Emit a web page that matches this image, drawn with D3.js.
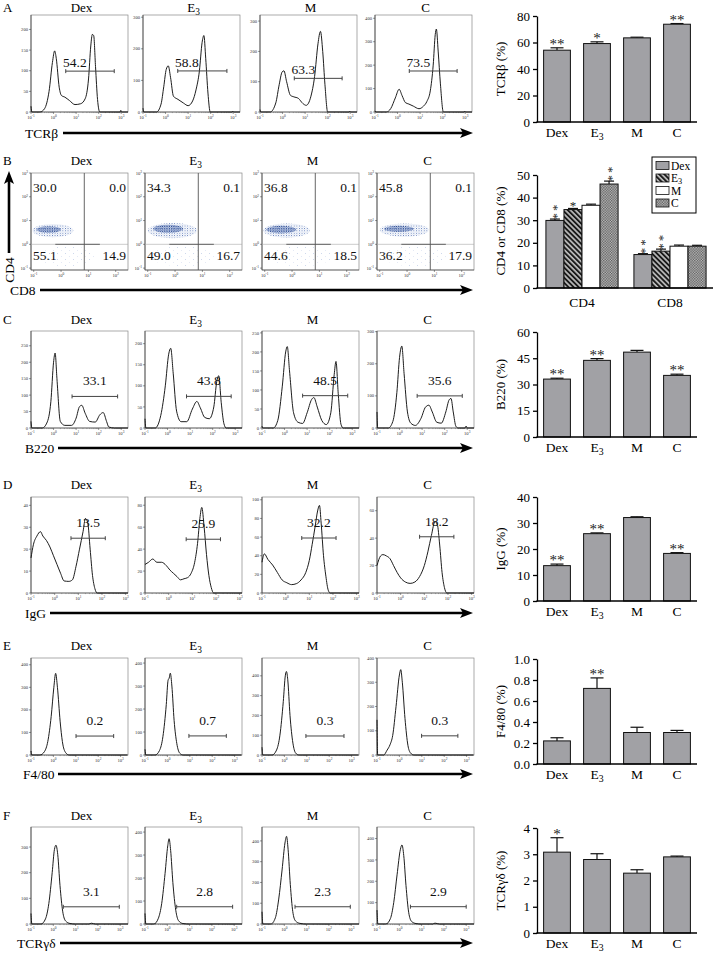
<!DOCTYPE html>
<html><head><meta charset="utf-8">
<script src="https://cdn.jsdelivr.net/npm/d3@7"></script>
<style>body{margin:0;background:#fff}svg{display:block}</style>
</head><body><svg id="c" width="713" height="957"></svg>
<script>
// ---------- DATA ----------
const groups = ["Dex","E3","M","C"];

// bar charts (mean, SEM, significance)
const tcrbMean=[54.2,59.2,63.5,73.8], tcrbErr=[1.8,1.3,0.5,0.5], tcrbSig=["**","*","","**"];
const cd4Mean=[29.9,34.7,36.6,46.0], cd4Err=[0.6,0.5,0.5,1.3], cd4Sig=["**","*","","**"];
const cd8Mean=[14.8,16.3,18.5,18.5], cd8Err=[0.4,0.9,0.5,0.4], cd8Sig=["**","**","",""];
const b220Mean=[33.1,43.8,48.5,35.2], b220Err=[0.5,1.0,1.0,0.7], b220Sig=["**","**","","**"];
const iggMean=[13.6,25.9,32.1,18.3], iggErr=[0.6,0.3,0.3,0.3], iggSig=["**","**","","**"];
const f480Mean=[0.22,0.72,0.30,0.30], f480Err=[0.03,0.10,0.05,0.02], f480Sig=["","**","",""];
const tcrgdMean=[3.08,2.80,2.28,2.90], tcrgdErr=[0.55,0.22,0.13,0.03], tcrgdSig=["*","","",""];

// histogram gate labels
const tcrbGateLabel=["54.2","58.8","63.3","73.5"];
const b220GateLabel=["33.1","43.8","48.5","35.6"];
const iggGateLabel=["13.5","25.9","32.2","18.2"];
const f480GateLabel=["0.2","0.7","0.3","0.3"];
const tcrgdGateLabel=["3.1","2.8","2.3","2.9"];

// gates: [log10 start, log10 end], gate height in counts
const tcrbGates=[[0.54,2.69],[0.54,2.72],[0.52,2.64],[0.52,2.64]], tcrbGateY=[99,130,111,175];
const b220Gates=[[0.82,2.84],[0.84,2.82],[0.8,2.8],[0.78,2.78]], b220GateY=[96,75,85,100];
const iggGates=[[0.69,2.14],[0.74,2.19],[0.68,2.13],[0.8,2.25]], iggGateY=[25,49,59,41];
const f480Gates=[[1.01,2.69],[0.96,2.63],[0.96,2.66],[0.99,2.61]], f480GateY=[84,83,96,79];
const tcrgdGates=[[0.45,2.96],[0.42,2.93],[0.48,2.96],[0.5,3.0]], tcrgdGateY=[67,75,83,81];

// histogram y axis maxima and tick steps
const tcrbYMax=[235,307,320,414], tcrbYStep=[50,100,100,100];
const b220YMax=[295,230,255,302], b220YStep=[50,50,50,100];
const iggYMax=[43.8,87.5,103,70], iggYStep=[10,20,20,20];
const f480YMax=[430,422,490,400], f480YStep=[100,100,100,100];
const tcrgdYMax=[378,422,467,454], tcrgdYStep=[100,100,100,100];

// histogram curves: [log10 fluorescence, count]
const tcrbCurves=[
 [[-1,14],[-0.96,0],[-0.6,0],[-0.4,8],[-0.2,50],[-0.05,120],[0.05,148],[0.12,130],[0.25,60],[0.35,40],[0.5,36],[0.7,28],[0.95,18],[1.2,20],[1.4,32],[1.55,80],[1.65,160],[1.72,188],[1.78,185],[1.86,110],[1.95,30],[2.05,0],[2.95,0],[2.98,4],[3.02,0],[3.3,0]],
 [[-1,12],[-0.96,0],[-0.4,0],[-0.2,25],[-0.08,80],[0.03,135],[0.12,146],[0.22,110],[0.35,50],[0.55,40],[0.8,28],[1.0,20],[1.2,35],[1.35,70],[1.5,130],[1.62,220],[1.70,242],[1.78,170],[1.88,60],[1.98,0],[2.95,0],[2.98,3],[3.02,0],[3.3,0]],
 [[-1,8],[-0.96,0],[-0.55,0],[-0.3,30],[-0.15,90],[-0.02,132],[0.06,136],[0.18,100],[0.35,55],[0.5,50],[0.7,45],[0.9,28],[1.05,22],[1.25,50],[1.42,117],[1.57,225],[1.68,266],[1.78,200],[1.88,90],[2.0,0],[2.95,0],[2.98,3],[3.02,0],[3.3,0]],
 [[-1,5],[-0.96,0],[-0.5,0],[-0.3,15],[-0.1,60],[0.07,97],[0.2,70],[0.35,40],[0.5,34],[0.7,25],[0.95,14],[1.15,25],[1.3,45],[1.45,90],[1.58,200],[1.67,330],[1.72,354],[1.8,260],[1.9,120],[2.03,0],[2.95,0],[2.98,4],[3.02,0],[3.3,0]]
];
const b220Curves=[
 [[-1,20],[-0.96,0],[-0.5,0],[-0.3,15],[-0.12,80],[0,200],[0.07,228],[0.15,150],[0.3,20],[0.5,8],[0.8,8],[1.0,30],[1.15,65],[1.25,69],[1.4,45],[1.6,20],[1.85,18],[2.05,40],[2.2,47],[2.35,20],[2.45,3],[2.7,0],[3.3,0]],
 [[-1,22],[-0.96,0],[-0.55,0],[-0.3,30],[-0.1,100],[0.05,175],[0.14,189],[0.25,130],[0.4,40],[0.6,15],[0.85,15],[1.1,45],[1.3,63],[1.45,48],[1.65,25],[1.85,22],[2.05,50],[2.18,110],[2.27,124],[2.38,60],[2.5,10],[2.6,0],[3.3,0]],
 [[-1,5],[-0.96,0],[-0.5,0],[-0.3,20],[-0.1,110],[0.05,200],[0.12,214],[0.22,150],[0.4,40],[0.6,15],[0.8,12],[1.0,40],[1.2,75],[1.3,80],[1.45,55],[1.65,20],[1.85,9],[2.05,40],[2.2,140],[2.28,175],[2.38,90],[2.5,10],[2.6,0],[3.3,0]],
 [[-1,50],[-0.97,0],[-0.5,0],[-0.3,20],[-0.12,110],[0,220],[0.1,255],[0.2,170],[0.35,50],[0.5,15],[0.7,8],[0.95,30],[1.15,65],[1.3,71],[1.45,50],[1.65,18],[1.85,15],[2.05,50],[2.2,88],[2.28,92],[2.38,50],[2.5,5],[2.6,0],[2.9,0],[2.95,6],[3.0,0],[3.3,0]]
];
const iggCurves=[
 [[-1,16],[-0.9,22],[-0.75,26],[-0.6,28],[-0.5,26],[-0.35,24],[-0.2,21],[-0.05,17],[0.1,13],[0.25,9],[0.4,5.5],[0.6,5.3],[0.75,6],[0.9,12],[1.05,20],[1.2,28],[1.3,34],[1.4,32],[1.5,20],[1.6,8],[1.7,2],[1.8,0],[3.1,0]],
 [[-1,26],[-0.85,28],[-0.67,31],[-0.5,28],[-0.3,28],[-0.1,25],[0.05,21],[0.2,18],[0.35,15],[0.5,12],[0.65,13],[0.8,14],[0.95,18],[1.1,28],[1.22,45],[1.32,68],[1.4,78],[1.5,60],[1.6,35],[1.7,16],[1.8,5],[1.9,0],[3.1,0]],
 [[-1,33],[-0.9,42],[-0.75,36],[-0.55,30],[-0.35,22],[-0.15,14],[0.05,11],[0.25,9],[0.45,10],[0.65,14],[0.85,22],[1.0,35],[1.12,52],[1.25,72],[1.35,88],[1.43,94],[1.5,75],[1.6,40],[1.7,18],[1.8,3],[1.88,0],[3.1,0]],
 [[-1,20],[-0.85,27],[-0.75,28],[-0.6,27],[-0.45,25],[-0.3,20],[-0.15,15],[0,11],[0.2,8],[0.4,7],[0.6,8],[0.8,12],[1.0,20],[1.15,30],[1.3,42],[1.45,52],[1.55,50],[1.65,35],[1.75,15],[1.85,4],[1.95,0],[3.1,0]]
];
const f480Curves=[
 [[-1,18],[-0.96,0],[-0.6,0],[-0.4,15],[-0.25,60],[-0.1,170],[0.02,300],[0.1,362],[0.18,300],[0.3,150],[0.4,60],[0.55,10],[0.7,0],[3.3,0]],
 [[-1,25],[-0.96,0],[-0.55,0],[-0.35,20],[-0.2,80],[-0.05,220],[0.03,325],[0.08,335],[0.13,356],[0.2,300],[0.3,150],[0.42,50],[0.55,8],[0.7,0],[3.3,0]],
 [[-1,39],[-0.96,0],[-0.55,0],[-0.35,25],[-0.2,100],[-0.05,270],[0.04,400],[0.09,422],[0.15,380],[0.25,200],[0.38,60],[0.5,10],[0.65,0],[3.3,0]],
 [[-1,145],[-0.97,0],[-0.7,0],[-0.55,20],[-0.42,42],[-0.3,80],[-0.15,200],[0,330],[0.06,352],[0.13,300],[0.25,150],[0.38,40],[0.5,8],[0.65,0],[3.3,0]]
];
const tcrgdCurves=[
 [[-1,41],[-0.96,0],[-0.55,0],[-0.35,20],[-0.2,80],[-0.05,200],[0.05,290],[0.12,307],[0.2,270],[0.3,150],[0.42,50],[0.55,12],[0.75,2],[1,0],[1.6,0],[1.7,3],[1.9,0],[3.35,0]],
 [[-1,46],[-0.96,0],[-0.6,0],[-0.4,25],[-0.25,90],[-0.1,220],[0.02,340],[0.08,371],[0.15,320],[0.25,180],[0.38,60],[0.5,15],[0.7,2],[1,0],[3.35,0]],
 [[-1,59],[-0.96,0],[-0.6,0],[-0.4,30],[-0.25,120],[-0.1,260],[0.03,390],[0.1,422],[0.17,360],[0.27,190],[0.38,60],[0.5,15],[0.7,3],[1,0],[3.35,0]],
 [[-1,65],[-0.96,0],[-0.6,0],[-0.4,25],[-0.25,100],[-0.1,230],[0.05,350],[0.12,370],[0.2,320],[0.3,180],[0.42,55],[0.55,12],[0.75,2],[1,0],[1.5,0],[1.6,4],[1.8,0],[3.35,0]]
];

// CD4 vs CD8 dot plots: quadrant percentages [UL, UR, LL, LR]
const cd4cd8Quad=[["30.0","0.0","55.1","14.9"],["34.3","0.1","49.0","16.7"],["36.8","0.1","44.6","18.5"],["45.8","0.1","36.2","17.9"]];
// cell clouds (log10 CD8 centre, log10 CD4 centre, log radius x, log radius y)
const cloudCore=[[-0.45,0.62,0.45,0.14],[-0.25,0.65,0.55,0.17],[-0.4,0.62,0.55,0.16],[-0.3,0.65,0.55,0.13]];
const cloudOuter=[[-0.3,0.58,0.75,0.28],[-0.1,0.58,0.9,0.32],[-0.2,0.58,0.85,0.3],[-0.1,0.6,0.9,0.28]];
const cloudSparse=[[0.2,-0.5,1.1,0.42],[0.3,-0.5,1.2,0.42],[0.3,-0.5,1.2,0.42],[0.3,-0.5,1.2,0.42]];

// ---------- DRAWING ----------
const SERIF="'Liberation Serif','Times New Roman',serif";
const svg=d3.select("#c").style("font-family",SERIF);
const defs=svg.append("defs");
const hatch=defs.append("pattern").attr("id","hatch").attr("width",3.6).attr("height",3.6)
  .attr("patternUnits","userSpaceOnUse").attr("patternTransform","rotate(-45)");
hatch.append("rect").attr("width",3.6).attr("height",3.6).attr("fill","#bdbdbd");
hatch.append("rect").attr("width",1.9).attr("height",3.6).attr("fill","#1a1a1a");
const chk=defs.append("pattern").attr("id","chk").attr("width",2.6).attr("height",2.6).attr("patternUnits","userSpaceOnUse");
chk.append("rect").attr("width",2.6).attr("height",2.6).attr("fill","#c4c4c4");
chk.append("rect").attr("width",1.3).attr("height",1.3).attr("fill","#555");
chk.append("rect").attr("x",1.3).attr("y",1.3).attr("width",1.3).attr("height",1.3).attr("fill","#555");
const pd=defs.append("pattern").attr("id","dense").attr("width",1.8).attr("height",1.7).attr("patternUnits","userSpaceOnUse");
pd.append("rect").attr("width",1).attr("height",1).attr("fill","#1f418f");
pd.append("rect").attr("x",1).attr("y",0.9).attr("width",0.7).attr("height",0.7).attr("fill","#4a6cb3");
const po=defs.append("pattern").attr("id","outer").attr("width",2.6).attr("height",2.4).attr("patternUnits","userSpaceOnUse");
po.append("rect").attr("width",0.9).attr("height",0.9).attr("fill","#4d6db2");
po.append("rect").attr("x",1.4).attr("y",1.3).attr("width",0.7).attr("height",0.7).attr("fill","#8099cf");
const ps=defs.append("pattern").attr("id","sparse").attr("width",8).attr("height",6).attr("patternUnits","userSpaceOnUse");
ps.append("rect").attr("x",1).attr("y",1).attr("width",0.7).attr("height",0.7).attr("fill","#9aaed8");
ps.append("rect").attr("x",5.2).attr("y",4).attr("width",0.6).attr("height",0.6).attr("fill","#b3c1e2");

const fill={Dex:"#a1a1a5",E3:"url(#hatch)",M:"#ffffff",C:"url(#chk)"};

function groupText(sel,name){
  if(name==="E3"){ sel.text("E"); sel.append("tspan").attr("font-size","72%").attr("dy","0.32em").text("3"); }
  else sel.text(name);
}
function powLabel(sel,e){
  sel.text("10"); sel.append("tspan").attr("dy",-1.6).attr("font-size","75%").text(e);
}

function hArrow(x1,x2,y){
  svg.append("line").attr("x1",x1).attr("x2",x2-8).attr("y1",y).attr("y2",y).attr("stroke","#000").attr("stroke-width",2.6);
  svg.append("path").attr("d",`M${x2},${y} L${x2-13},${y-5} L${x2-10},${y} L${x2-13},${y+5} Z`).attr("fill","#000");
}
function vArrow(x,y1,y2){
  svg.append("line").attr("x1",x).attr("x2",x).attr("y1",y1).attr("y2",y2+8).attr("stroke","#000").attr("stroke-width",2.6);
  svg.append("path").attr("d",`M${x},${y2} L${x-5},${y2+13} L${x},${y2+10} L${x+5},${y2+13} Z`).attr("fill","#000");
}

function histXAxis(x,yb,xMaxLab){
  const g=svg.append("g");
  for(let d=-1; d<=xMaxLab; d++){
    g.append("line").attr("x1",x(d)).attr("x2",x(d)).attr("y1",yb).attr("y2",yb+2).attr("stroke","#333").attr("stroke-width",0.5);
    powLabel(g.append("text").attr("x",x(d)).attr("y",yb+7).attr("text-anchor","middle").attr("font-size",4.6).attr("fill","#333"),d);
    if(d<xMaxLab) for(let k=2;k<10;k++){
      const v=d+Math.log10(k);
      g.append("line").attr("x1",x(v)).attr("x2",x(v)).attr("y1",yb).attr("y2",yb+1.1).attr("stroke","#555").attr("stroke-width",0.4);
    }
  }
}
function boxAndY(px,py,w,h,y,ticks,fmt){
  svg.append("rect").attr("x",px).attr("y",py).attr("width",w).attr("height",h).attr("fill","none").attr("stroke","#888").attr("stroke-width",0.7);
  svg.append("line").attr("x1",px).attr("x2",px).attr("y1",py).attr("y2",py+h).attr("stroke","#333").attr("stroke-width",0.7);
  svg.append("line").attr("x1",px).attr("x2",px+w).attr("y1",py+h).attr("y2",py+h).attr("stroke","#444").attr("stroke-width",0.6);
  const g=svg.append("g");
  ticks.forEach(t=>{
    g.append("line").attr("x1",px-2).attr("x2",px).attr("y1",y(t)).attr("y2",y(t)).attr("stroke","#333").attr("stroke-width",0.5);
    const tx=g.append("text").attr("x",px-3).attr("y",y(t)+1.6).attr("text-anchor","end").attr("font-size",4.6).attr("fill","#333");
    fmt(tx,t);
  });
}

function histRow(o){
  svg.append("text").attr("x",3).attr("y",o.titleY).attr("font-size",13).text(o.letter);
  o.lefts.forEach((px,i)=>{
    const w=97,h=o.h,py=o.top;
    groupText(svg.append("text").attr("x",px+w/2+2).attr("y",o.titleY).attr("text-anchor","middle").attr("font-size",13),groups[i]);
    const x=d3.scaleLinear().domain([-1,o.xMax]).range([px,px+w]);
    const y=d3.scaleLinear().domain([0,o.yMax[i]]).range([py+h,py]);
    boxAndY(px,py,w,h,y,d3.range(0,o.yMax[i]+1e-9,o.yStep[i]),(s,t)=>s.text(t));
    histXAxis(x,py+h,3);
    const line=d3.line().x(d=>x(d[0])).y(d=>y(d[1])).curve(d3.curveMonotoneX);
    svg.append("path").attr("d",line(o.curves[i])).attr("fill","none").attr("stroke","#111").attr("stroke-width",0.95);
    const [g0,g1]=o.gates[i], gy=y(o.gateY[i]);
    const gg=svg.append("g").attr("stroke","#444").attr("stroke-width",1);
    gg.append("line").attr("x1",x(g0)).attr("x2",x(g1)).attr("y1",gy).attr("y2",gy);
    gg.append("line").attr("x1",x(g0)).attr("x2",x(g0)).attr("y1",gy-2).attr("y2",gy+2);
    gg.append("line").attr("x1",x(g1)).attr("x2",x(g1)).attr("y1",gy-2).attr("y2",gy+2);
    if(o.labelMode==="start")
      svg.append("text").attr("x",x(g0)-2.7).attr("y",gy-4).attr("font-size",13.5).attr("fill","#111").text(o.labels[i]);
    else
      svg.append("text").attr("x",(x(g0)+x(g1))/2).attr("y",gy-11).attr("text-anchor","middle").attr("font-size",13.5).attr("fill","#111").text(o.labels[i]);
  });
  svg.append("text").attr("x",o.nameX).attr("y",o.arrowY+5).attr("font-size",13.5).text(o.name);
  hArrow(o.arrowX,473,o.arrowY);
}

function styleAxis(ax){
  ax.selectAll("text").attr("font-family",SERIF).attr("font-size",13).attr("fill","#000");
  ax.selectAll("path,line").attr("stroke","#000").attr("stroke-width",1.3);
}
function barChart(o){
  const x=d3.scaleBand().domain(groups).range([537,697]).paddingInner(0.33).paddingOuter(0.165);
  const y=d3.scaleLinear().domain([0,o.max]).range([o.bottom,o.top]);
  const g=svg.append("g");
  groups.forEach((k,i)=>{
    const m=o.mean[i], e=o.err[i], cx=x(k)+x.bandwidth()/2;
    g.append("line").attr("x1",cx).attr("x2",cx).attr("y1",y(m)).attr("y2",y(m+e)).attr("stroke","#111").attr("stroke-width",1.2);
    g.append("line").attr("x1",cx-6.5).attr("x2",cx+6.5).attr("y1",y(m+e)).attr("y2",y(m+e)).attr("stroke","#111").attr("stroke-width",1.2);
    g.append("rect").attr("x",x(k)).attr("y",y(m)).attr("width",x.bandwidth()).attr("height",o.bottom-y(m))
      .attr("fill",fill.Dex).attr("stroke","#111").attr("stroke-width",1);
    if(o.sig[i]) g.append("text").attr("x",cx).attr("y",y(m+e)+1).attr("text-anchor","middle").attr("font-size",15).attr("fill","#222").text(o.sig[i]);
    groupText(g.append("text").attr("x",cx).attr("y",o.bottom+15).attr("text-anchor","middle").attr("font-size",13.5),k);
  });
  const ax=svg.append("g").attr("transform","translate(537,0)")
    .call(d3.axisLeft(y).tickValues(o.ticks).tickFormat(o.fmt||(d=>d)).tickSize(4).tickSizeOuter(0).tickPadding(3));
  styleAxis(ax);
  svg.append("line").attr("x1",536.4).attr("x2",o.xEnd||697).attr("y1",o.bottom).attr("y2",o.bottom).attr("stroke","#000").attr("stroke-width",1.3);
  svg.append("text").attr("transform",`translate(505,${(o.top+o.bottom)/2}) rotate(-90)`).attr("text-anchor","middle").attr("font-size",13).text(o.label);
}

// Row A
histRow({letter:"A",titleY:12,top:15,h:97,lefts:[31,143,260,375],xMax:3.3,yMax:tcrbYMax,yStep:tcrbYStep,curves:tcrbCurves,gates:tcrbGates,gateY:tcrbGateY,labels:tcrbGateLabel,labelMode:"start",name:"TCRβ",nameX:25,arrowX:63,arrowY:133});
barChart({top:16,bottom:122,max:80,ticks:[0,20,40,60,80],mean:tcrbMean,err:tcrbErr,sig:tcrbSig,label:"TCRβ (%)"});

// Row B : dot plots
(function(){
  const top=173,h=97,lefts=[31,145,262,377],w=97;
  svg.append("text").attr("x",3).attr("y",165).attr("font-size",13).text("B");
  lefts.forEach((px,i)=>{
    groupText(svg.append("text").attr("x",px+w/2+2).attr("y",165).attr("text-anchor","middle").attr("font-size",13),groups[i]);
    const x=d3.scaleLinear().domain([-1.1,2.45]).range([px,px+w]);
    const y=d3.scaleLinear().domain([-1.08,3]).range([top+h,top]);
    const ell=(c,f)=>svg.append("ellipse").attr("cx",x(c[0])).attr("cy",y(c[1])).attr("rx",x(c[0]+c[2])-x(c[0])).attr("ry",y(c[1])-y(c[1]+c[3])).attr("fill",f);
    ell(cloudSparse[i],"url(#sparse)");
    ell(cloudOuter[i],"url(#outer)");
    ell(cloudCore[i],"url(#dense)");
    boxAndY(px,top,w,h,y,[-1,0,1,2,3],(s,t)=>powLabel(s,t));
    const yb=top+h, g=svg.append("g");
    [-1,0,1,2].forEach(d=>{
      g.append("line").attr("x1",x(d)).attr("x2",x(d)).attr("y1",yb).attr("y2",yb+2).attr("stroke","#333").attr("stroke-width",0.5);
      powLabel(g.append("text").attr("x",x(d)).attr("y",yb+7).attr("text-anchor","middle").attr("font-size",4.6).attr("fill","#333"),d);
    });
    svg.append("line").attr("x1",px).attr("x2",px+w).attr("y1",y(0)).attr("y2",y(0)).attr("stroke","#aaa").attr("stroke-width",0.6);
    svg.append("line").attr("x1",x(-0.21)).attr("x2",x(1.42)).attr("y1",y(0)).attr("y2",y(0)).attr("stroke","#555").attr("stroke-width",0.9);
    svg.append("line").attr("x1",x(0.85)).attr("x2",x(0.85)).attr("y1",top).attr("y2",top+h).attr("stroke","#555").attr("stroke-width",0.9);
    const q=cd4cd8Quad[i];
    svg.append("text").attr("x",px+2).attr("y",top+19).attr("font-size",13.5).attr("fill","#111").text(q[0]);
    svg.append("text").attr("x",px+w-2).attr("y",top+19).attr("text-anchor","end").attr("font-size",13.5).attr("fill","#111").text(q[1]);
    svg.append("text").attr("x",px+2).attr("y",top+87).attr("font-size",13.5).attr("fill","#111").text(q[2]);
    svg.append("text").attr("x",px+w-2).attr("y",top+87).attr("text-anchor","end").attr("font-size",13.5).attr("fill","#111").text(q[3]);
  });
  svg.append("text").attr("transform","translate(14,270) rotate(-90)").attr("text-anchor","middle").attr("font-size",13.5).text("CD4");
  vArrow(9,253,171);
  svg.append("text").attr("x",10).attr("y",295).attr("font-size",13.5).text("CD8");
  hArrow(40,473,290);

  // grouped bar chart
  const cats=["CD4","CD8"];
  const x0=d3.scaleBand().domain(cats).range([538,714]).paddingInner(0.18).paddingOuter(0.09);
  const x1=d3.scaleBand().domain(groups).range([0,x0.bandwidth()]);
  const y=d3.scaleLinear().domain([0,50]).range([288,175]);
  const sets={CD4:[cd4Mean,cd4Err,cd4Sig],CD8:[cd8Mean,cd8Err,cd8Sig]};
  cats.forEach(c=>{
    const [mean,err,sig]=sets[c];
    groups.forEach((k,i)=>{
      const bx=x0(c)+x1(k), cx=bx+x1.bandwidth()/2, m=mean[i], e=err[i];
      svg.append("line").attr("x1",cx).attr("x2",cx).attr("y1",y(m)).attr("y2",y(m+e)).attr("stroke","#111").attr("stroke-width",1.2);
      svg.append("line").attr("x1",cx-5).attr("x2",cx+5).attr("y1",y(m+e)).attr("y2",y(m+e)).attr("stroke","#111").attr("stroke-width",1.2);
      svg.append("rect").attr("x",bx).attr("y",y(m)).attr("width",x1.bandwidth()).attr("height",288-y(m))
        .attr("fill",fill[k]).attr("stroke","#111").attr("stroke-width",1);
      const s=sig[i], fs=13, top=y(m+e);
      if(s==="*") svg.append("text").attr("x",cx).attr("y",top+1.5).attr("text-anchor","middle").attr("font-size",fs).attr("fill","#222").text("*");
      if(s==="**"){
        svg.append("text").attr("transform",`translate(${cx+0.5*fs},${top-8}) rotate(-90)`)
          .attr("text-anchor","middle").attr("font-size",fs).attr("letter-spacing",2).attr("fill","#222").text("**");
      }
    });
    svg.append("text").attr("x",x0(c)+x0.bandwidth()/2).attr("y",307).attr("text-anchor","middle").attr("font-size",13.5).text(c);
  });
  const ax=svg.append("g").attr("transform","translate(537,0)")
    .call(d3.axisLeft(y).tickValues([0,10,20,30,40,50]).tickSize(4).tickSizeOuter(0).tickPadding(3));
  styleAxis(ax);
  svg.append("line").attr("x1",536.4).attr("x2",713).attr("y1",288).attr("y2",288).attr("stroke","#000").attr("stroke-width",1.3);
  svg.append("text").attr("transform","translate(505,231) rotate(-90)").attr("text-anchor","middle").attr("font-size",13).text("CD4 or CD8 (%)");
  // legend
  svg.append("rect").attr("x",652).attr("y",157).attr("width",44).attr("height",56).attr("fill","#fff").attr("stroke","#000").attr("stroke-width",1);
  groups.forEach((k,i)=>{
    const cy=165.5+i*12.5;
    svg.append("rect").attr("x",656).attr("y",cy-4).attr("width",13).attr("height",8).attr("fill",fill[k]).attr("stroke","#111").attr("stroke-width",0.8);
    const t=svg.append("text").attr("x",671).attr("y",cy+4).attr("font-size",11.5);
    if(k==="E3"){ t.text("E"); t.append("tspan").attr("font-size","72%").attr("dy","0.22em").text("3"); }
    else t.text(k);
  });
})();

// Row C
histRow({letter:"C",titleY:324,top:331,h:97,lefts:[31,145,262,377],xMax:3.3,yMax:b220YMax,yStep:b220YStep,curves:b220Curves,gates:b220Gates,gateY:b220GateY,labels:b220GateLabel,labelMode:"center",name:"B220",nameX:25,arrowX:58,arrowY:448});
barChart({top:332,bottom:437,max:60,ticks:[0,15,30,45,60],mean:b220Mean,err:b220Err,sig:b220Sig,label:"B220 (%)"});

// Row D
histRow({letter:"D",titleY:489,top:497,h:96,lefts:[31,145,262,377],xMax:3.1,yMax:iggYMax,yStep:iggYStep,curves:iggCurves,gates:iggGates,gateY:iggGateY,labels:iggGateLabel,labelMode:"center",name:"IgG",nameX:25,arrowX:50,arrowY:613});
barChart({top:497,bottom:601,max:40,ticks:[0,10,20,30,40],mean:iggMean,err:iggErr,sig:iggSig,label:"IgG (%)"});

// Row E
histRow({letter:"E",titleY:650,top:658,h:97,lefts:[31,145,262,377],xMax:3.33,yMax:f480YMax,yStep:f480YStep,curves:f480Curves,gates:f480Gates,gateY:f480GateY,labels:f480GateLabel,labelMode:"center",name:"F4/80",nameX:23,arrowX:58,arrowY:774});
barChart({top:659,bottom:764,max:1.0,ticks:[0,0.2,0.4,0.6,0.8,1.0],fmt:d3.format(".1f"),mean:f480Mean,err:f480Err,sig:f480Sig,label:"F4/80 (%)"});

// Row F
histRow({letter:"F",titleY:820,top:827,h:97,lefts:[31,145,262,377],xMax:3.35,yMax:tcrgdYMax,yStep:tcrgdYStep,curves:tcrgdCurves,gates:tcrgdGates,gateY:tcrgdGateY,labels:tcrgdGateLabel,labelMode:"center",name:"TCRγδ",nameX:17,arrowX:60,arrowY:943});
barChart({top:828,bottom:933,max:4,ticks:[0,1,2,3,4],mean:tcrgdMean,err:tcrgdErr,sig:tcrgdSig,label:"TCRγδ (%)"});
</script>
</body></html>
